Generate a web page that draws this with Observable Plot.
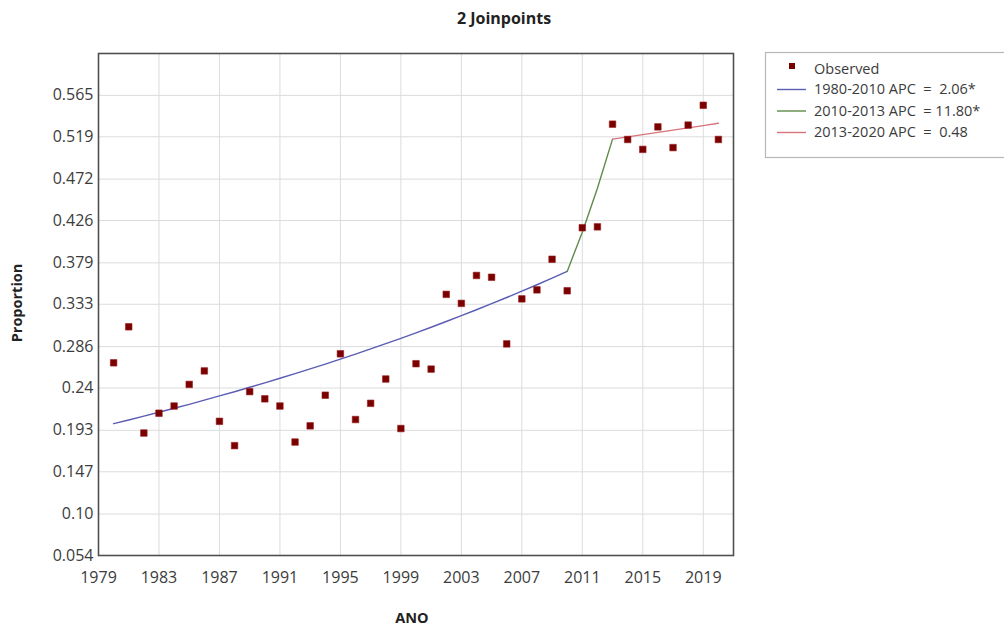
<!DOCTYPE html>
<html>
<head>
<meta charset="utf-8">
<script src="https://cdn.jsdelivr.net/npm/d3@7"></script>
<script src="https://cdn.jsdelivr.net/npm/@observablehq/plot@0.6"></script>
<style>
  html, body { margin: 0; padding: 0; background: #fff; }
  #chart { width: 1004px; height: 630px; }
  text.pre { white-space: pre; }
</style>
</head>
<body>
<div id="chart"></div>
<script>
// ---- data ----
const years = [1980,1981,1982,1983,1984,1985,1986,1987,1988,1989,1990,1991,1992,1993,1994,1995,1996,1997,1998,1999,2000,2001,2002,2003,2004,2005,2006,2007,2008,2009,2010,2011,2012,2013,2014,2015,2016,2017,2018,2019,2020];
const observed = [0.268,0.308,0.190,0.212,0.220,0.244,0.259,0.203,0.176,0.236,0.228,0.220,0.180,0.198,0.232,0.278,0.205,0.223,0.250,0.195,0.267,0.261,0.344,0.334,0.365,0.363,0.289,0.339,0.349,0.383,0.348,0.418,0.419,0.533,0.516,0.505,0.530,0.507,0.532,0.554,0.516];

const seg1Years = [1980,1981,1982,1983,1984,1985,1986,1987,1988,1989,1990,1991,1992,1993,1994,1995,1996,1997,1998,1999,2000,2001,2002,2003,2004,2005,2006,2007,2008,2009,2010];
const seg1Fit = [0.2004,0.2045,0.2088,0.2131,0.2175,0.2219,0.2265,0.2312,0.2359,0.2408,0.2457,0.2508,0.2560,0.2612,0.2666,0.2721,0.2777,0.2834,0.2893,0.2952,0.3013,0.3075,0.3139,0.3203,0.3269,0.3337,0.3405,0.3476,0.3547,0.3620,0.3695];
const seg2Years = [2010,2011,2012,2013];
const seg2Fit = [0.3695,0.4131,0.4619,0.5164];
const seg3Years = [2013,2014,2015,2016,2017,2018,2019,2020];
const seg3Fit = [0.5164,0.5189,0.5214,0.5239,0.5264,0.5289,0.5314,0.5340];

const xTicks = [1979,1983,1987,1991,1995,1999,2003,2007,2011,2015,2019];
const yTickLabels = ["0.054","0.10","0.147","0.193","0.24","0.286","0.333","0.379","0.426","0.472","0.519","0.565"];

const seriesNames = ["Observed","1980-2010 APC  =  2.06*","2010-2013 APC  = 11.80*","2013-2020 APC  =  0.48"];
const seriesColors = ["#7a0000","#5b5cb4","#5e8c4a","#d8737c"];

const titleText = "2 Joinpoints";
const xLabel = "ANO";
const yLabel = "Proportion";

// ---- build ----
const yTickVals = yTickLabels.map(Number);
const obsRows = years.map((y, i) => ({year: y, value: observed[i]}));
const seg = (ys, vs) => ys.map((y, i) => ({year: y, value: vs[i]}));

const font = "'Open Sans', 'Noto Sans', sans-serif";

const svg = Plot.plot({
  width: 1004,
  height: 630,
  marginLeft: 98,
  marginRight: 271,
  marginTop: 53,
  marginBottom: 75,
  style: {fontFamily: font, fontSize: "16px", color: "#3c3c3c", background: "#fff", overflow: "visible"},
  x: {domain: [1979, 2021], label: null},
  y: {domain: [0.054, 0.6115], label: null},
  marks: [
    Plot.gridX(xTicks, {stroke: "#dcdcdc", strokeOpacity: 1, strokeWidth: 1}),
    Plot.gridY(yTickVals, {stroke: "#dcdcdc", strokeOpacity: 1, strokeWidth: 1}),
    Plot.axisX(xTicks, {tickSize: 0, tickPadding: 16, tickFormat: "d", label: null}),
    Plot.axisY(yTickVals, {tickSize: 0, tickPadding: 5, tickFormat: d => yTickLabels[yTickVals.indexOf(d)], label: null}),
    Plot.line(seg(seg1Years, seg1Fit), {x: "year", y: "value", stroke: seriesColors[1], strokeWidth: 1.4}),
    Plot.line(seg(seg2Years, seg2Fit), {x: "year", y: "value", stroke: seriesColors[2], strokeWidth: 1.4}),
    Plot.line(seg(seg3Years, seg3Fit), {x: "year", y: "value", stroke: seriesColors[3], strokeWidth: 1.4}),
    Plot.dot(obsRows, {x: "year", y: "value", symbol: "square", r: 3.7, fill: seriesColors[0], stroke: "#9a2020", strokeWidth: 0.6}),
    Plot.frame({stroke: "#505050", strokeWidth: 1.6})
  ]
});

document.getElementById("chart").appendChild(svg);

const s = d3.select(svg);

// title
s.append("text")
  .attr("x", 504).attr("y", 20)
  .attr("text-anchor", "middle").attr("dominant-baseline", "middle")
  .style("font-family", font).style("font-size", "16px").style("font-weight", "bold")
  .attr("fill", "#222")
  .text(titleText);

// axis titles
s.append("text")
  .attr("x", 412).attr("y", 619)
  .attr("text-anchor", "middle").attr("dominant-baseline", "middle")
  .style("font-family", font).style("font-size", "14.5px").style("font-weight", "bold")
  .attr("fill", "#222")
  .text(xLabel);

s.append("text")
  .attr("transform", "translate(18,303) rotate(-90)")
  .attr("text-anchor", "middle").attr("dominant-baseline", "middle")
  .style("font-family", font).style("font-size", "14.5px").style("font-weight", "bold")
  .attr("fill", "#222")
  .text(yLabel);

// legend
const lg = s.append("g").attr("text-anchor", "start");
lg.append("rect")
  .attr("x", 765.5).attr("y", 52.5).attr("width", 240).attr("height", 105)
  .attr("fill", "#fff").attr("stroke", "#b8b8b8").attr("stroke-width", 1.2);
const rowY = [70.5, 90.5, 112, 133.5];
seriesNames.forEach((name, i) => {
  if (i === 0) {
    lg.append("rect").attr("x", 789).attr("y", 63).attr("width", 6).attr("height", 6)
      .attr("fill", seriesColors[0]);
  } else {
    lg.append("line").attr("x1", 777).attr("x2", 806).attr("y1", rowY[i] - 1).attr("y2", rowY[i] - 1)
      .attr("stroke", seriesColors[i]).attr("stroke-width", 1.4);
  }
  lg.append("text").attr("class", "pre")
    .attr("x", 814).attr("y", rowY[i])
    .attr("text-anchor", "start")
    .attr("dominant-baseline", "middle")
    .style("font-family", font).style("font-size", "14.5px")
    .attr("fill", "#3c3c3c")
    .text(name);
});
</script>
</body>
</html>
